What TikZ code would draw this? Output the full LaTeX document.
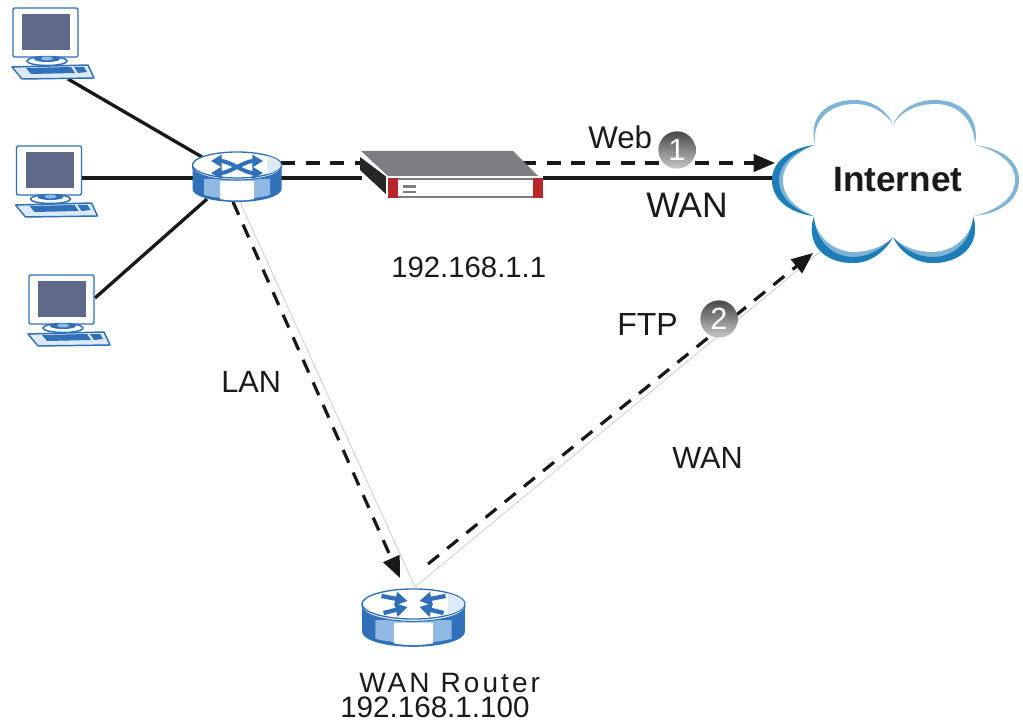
\documentclass[tikz,border=0pt]{standalone}
\usepackage{fontspec}
\setmainfont{Liberation Sans}
\usetikzlibrary{arrows.meta}
\definecolor{devblue}{HTML}{2F70B8}
\definecolor{devmid}{HTML}{8FB8E2}
\definecolor{devpale}{HTML}{DCE9F6}
\definecolor{screen}{HTML}{5F6A8A}
\definecolor{cloudlight}{HTML}{7FB4D8}
\definecolor{clouddark}{HTML}{1C7DB8}
\definecolor{fwred}{HTML}{B8282A}
\definecolor{fwgrey}{HTML}{7C7E82}
\definecolor{txt}{HTML}{1A1A1A}
\tikzset{
  x=0.75pt,y=-0.75pt,
  solidlink/.style={line width=2.5pt,black!90},
  dashlink/.style={line width=2.4pt,black!90,dash pattern=on 10.5pt off 8pt},
  guide/.style={line width=0.5pt,black!22},
  headed/.style={-{Triangle[length=16pt,width=13pt]}},
  lbl/.style={anchor=base west,inner sep=0pt,text=txt},
  badge/.style={circle,inner sep=0pt,minimum size=28pt,text=white,font=\fontsize{23}{23}\selectfont,
    top color=black!72,bottom color=black!22,shading angle=0},
  computer/.pic={
    \draw[devblue,line width=1.1pt,fill=white,rounded corners=1pt] (0,0) rectangle (65,49);
    \fill[screen] (9,6) rectangle (57,42);
    \draw[devblue,line width=1.1pt,fill=white] (34,53) ellipse (20 and 4.5);
    \fill[devblue] (34,51) ellipse (13 and 3);
    \fill[devmid] (34,50.5) ellipse (6 and 2);
    \draw[devblue,line width=1.1pt,fill=devpale,line join=round] (-1,59) -- (75,57) -- (81,70) -- (9,71) -- cycle;
    \fill[devblue] (13,60) -- (58,59) -- (62,65) -- (18,66) -- cycle;
    \fill[devblue] (61,59) -- (71,59) -- (74,64) -- (65,65) -- cycle;
  },
  routerbase/.pic={
    \fill[devblue] (-44.5,0) -- (-44.5,24) arc[start angle=180,end angle=0,x radius=44.5,y radius=13] -- (44.5,0) -- cycle;
    \fill[devmid] (-33,14) -- (33,14) -- (33,30) .. controls (15,35) and (-15,35) .. (-33,30) -- cycle;
    \fill[white] (-17,16) -- (17,16) -- (17,34) .. controls (8,36) and (-8,36) .. (-17,34) -- cycle;
    \draw[devblue,line width=0.8pt,fill=white] (0,2) ellipse (44.5 and 13);
    \draw[devblue,line width=1pt,fill=white] (0,0) ellipse (44.5 and 13);
    \begin{scope}
      \clip (0,0) ellipse (44 and 12.5);
      \fill[devpale] (30,-14) rectangle (46,14);
    \end{scope}
  },
}
\begin{document}
\begin{tikzpicture}
\useasboundingbox (0,0) rectangle (1023,723);
\fill[white] (0,0) rectangle (1023,723);

% connector ends
\coordinate (pcA) at (68,79);
\coordinate (pcB) at (82,178);
\coordinate (pcC) at (95,298);
\coordinate (hubA) at (202,157);
\coordinate (hubB) at (194,178);
\coordinate (hubC) at (207,199);
\coordinate (hubE) at (279,178);
\coordinate (hubEd) at (281,163);
\coordinate (hubS) at (233,202);
\coordinate (hubSg) at (240,202);
\coordinate (fwW) at (362,178);
\coordinate (fwWd) at (365,163);
\coordinate (fwE) at (541,178);
\coordinate (fwEd) at (522,163);
\coordinate (netW) at (775,178);
\coordinate (netWd) at (775,163);
\coordinate (netS) at (813,253);
\coordinate (netSg) at (822,250);
\coordinate (wanN) at (400,578);
\coordinate (wanNg) at (415,587);
\coordinate (wanNd) at (428,564);

% thin guide lines
\draw[guide] (hubSg) -- (wanNg);
\draw[guide] (wanNg) -- (netSg);

% solid links
\draw[solidlink] (pcA) -- (hubA);
\draw[solidlink] (pcB) -- (hubB);
\draw[solidlink] (pcC) -- (hubC);
\draw[solidlink] (hubE) -- (fwW);
\draw[solidlink] (fwE) -- (netW);

% dashed links
\draw[dashlink] (hubEd) -- (fwWd);
\draw[dashlink,headed] (fwEd) -- (netWd);
\draw[dashlink,headed] (hubS) -- (wanN);
\draw[dashlink,headed] (wanNd) -- (netS);

% computers
\pic at (13,8) {computer};
\pic at (16.5,146) {computer};
\pic at (29,275) {computer};

% hub router
\pic at (237,165) {routerbase};
\begin{scope}[shift={(237,167)}]
  \draw[devblue,line width=3pt,{Triangle[length=8pt,width=9pt]}-{Triangle[length=8pt,width=9pt]}] (-26,-6) .. controls (-8,-6) and (8,6) .. (26,6);
  \draw[devblue,line width=3pt,{Triangle[length=8pt,width=9pt]}-{Triangle[length=8pt,width=9pt]}] (-26,6) .. controls (-8,6) and (8,-6) .. (26,-6);
\end{scope}

% WAN router
\pic[xscale=1.157,yscale=1.157] at (413.5,604) {routerbase};
\begin{scope}[shift={(413.5,604)}]
  \foreach \ax/\ay/\bx/\by in {-32/-8/-6/-3, 32/-8/6/-3, -30/9/-6/3, 30/9/6/3}{
    \draw[devblue,line width=3.2pt,-{Triangle[length=9pt,width=10pt]}] (\ax,\ay) -- (\bx,\by);
  }
\end{scope}

% firewall device
\fill[fwgrey] (361,151) -- (513,151) -- (538,176) -- (388,176) -- cycle;
\fill[black!85] (360,157) -- (388,178) -- (387,195) -- (360,170) -- cycle;
\fill[white] (386,176) rectangle (543,198);
\draw[fwgrey,line width=1.5pt] (388,179) -- (543,179);
\draw[fwgrey,line width=1.5pt] (388,197) -- (543,197);
\fill[fwred] (388,178) rectangle (398,198);
\fill[fwred] (533,178) rectangle (543,198);
\fill[fwgrey] (403,185) rectangle (416,188);
\fill[fwgrey] (403,191.5) rectangle (416,193);

% cloud
\fill[cloudlight] (815,145) .. controls (808,118) and (825,100) .. (855,100) .. controls (872,100) and (887,110) .. (893,125) .. controls (899,110) and (915,100) .. (935,100) .. controls (962,100) and (980,118) .. (975,145) .. controls (1000,148) and (1019,160) .. (1019,180) .. controls (1019,200) and (1000,214) .. (973,216) .. controls (982,245) and (960,263) .. (933,263) .. controls (915,263) and (900,252) .. (893,237) .. controls (885,252) and (870,263) .. (853,263) .. controls (825,263) and (805,245) .. (814,216) .. controls (790,213) and (772,200) .. (772,180) .. controls (772,162) and (790,148) .. (815,145) -- cycle;
\fill[clouddark] (815,145) .. controls (790,148) and (772,162) .. (772,180) .. controls (772,200) and (790,213) .. (814,216) .. controls (794,210) and (779,198) .. (779,180) .. controls (779,164) and (794,151) .. (815,145) -- cycle;
\fill[clouddark] (814,216) .. controls (805,245) and (825,263) .. (853,263) .. controls (870,263) and (885,252) .. (893,237) .. controls (882,249) and (868,257) .. (853,257) .. controls (832,257) and (815,240) .. (814,216) -- cycle;
\fill[clouddark] (893,237) .. controls (900,252) and (915,263) .. (933,263) .. controls (960,263) and (982,245) .. (973,216) .. controls (972,240) and (955,257) .. (933,257) .. controls (917,257) and (903,249) .. (893,237) -- cycle;
\fill[white] (815,145) .. controls (812,120) and (830,104) .. (855,104) .. controls (870,104) and (885,112) .. (893,125) .. controls (901,112) and (916,104) .. (935,104) .. controls (958,104) and (974,120) .. (975,145) .. controls (996,150) and (1015,162) .. (1015,180) .. controls (1015,198) and (996,211) .. (973,216) .. controls (972,235) and (955,251) .. (933,252) .. controls (917,252) and (903,247) .. (893,237) .. controls (883,247) and (868,252) .. (853,252) .. controls (832,251) and (815,235) .. (814,216) .. controls (796,208) and (783,197) .. (783,180) .. controls (783,165) and (796,152) .. (815,145) -- cycle;
\node[lbl,font=\fontsize{26.4}{26.4}\selectfont\bfseries] (internet) at (833,192) {Internet};

% badges
\node[badge] (one) at (677,150) {1};
\node[badge] (two) at (719,319) {2};

% labels
\node[lbl,font=\fontsize{23.5}{24}\selectfont] (web) at (588,149) {Web};
\node[lbl,font=\fontsize{26.6}{27}\selectfont] (wanA) at (646,218) {WAN};
\node[lbl,font=\fontsize{22}{25}\selectfont] (fwip) at (391,278) {192.168.1.1};
\node[lbl,font=\fontsize{23}{24}\selectfont] (lan) at (221,392) {LAN};
\node[lbl,font=\fontsize{24}{25}\selectfont] (ftp) at (617,335) {FTP};
\node[lbl,font=\fontsize{23}{24}\selectfont] (wanB) at (672,468) {WAN};
\node[lbl,font=\fontsize{21}{25}\selectfont\addfontfeature{LetterSpace=11}] (wanr) at (359,692) {WAN Router};
\node[lbl,font=\fontsize{22.2}{25}\selectfont] (wanip) at (340,717) {192.168.1.100};
\end{tikzpicture}
\end{document}
